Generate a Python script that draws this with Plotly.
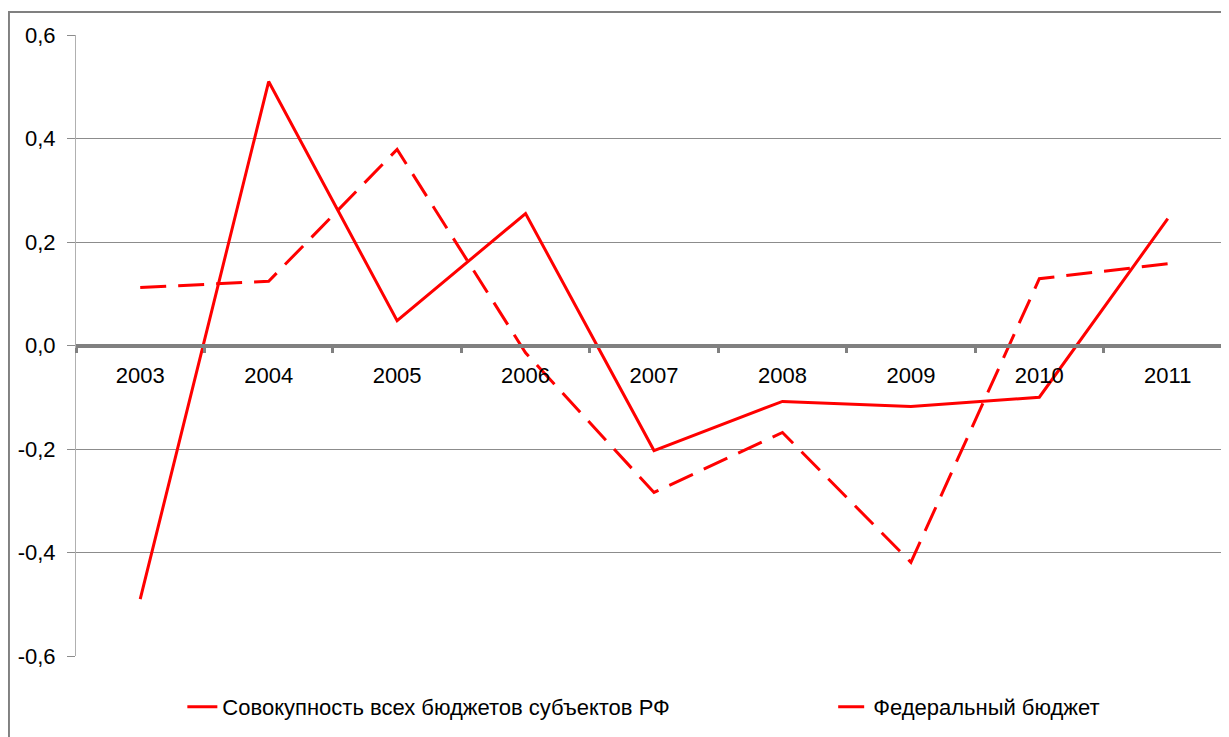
import plotly.graph_objects as go

# Data
years = ['2003', '2004', '2005', '2006', '2007', '2008', '2009', '2010', '2011']
regions_total = [-0.49, 0.51, 0.048, 0.255, -0.203, -0.108, -0.118, -0.100, 0.245]
federal = [0.112, 0.124, 0.379, -0.014, -0.284, -0.168, -0.419, 0.129, 0.158]

y_ticks = [-0.6, -0.4, -0.2, 0.0, 0.2, 0.4, 0.6]
y_labels = ['-0,6', '-0,4', '-0,2', '0,0', '0,2', '0,4', '0,6']

font_name = 'Arial, Liberation Sans, sans-serif'

fig = go.Figure()
fig.add_trace(go.Scatter(
    x=years, y=regions_total, mode='lines',
    name='Совокупность всех бюджетов субъектов РФ',
    line=dict(color='#ff0000', width=3),
    legend='legend',
))
fig.add_trace(go.Scatter(
    x=years, y=federal, mode='lines',
    name='Федеральный бюджет',
    line=dict(color='#ff0000', width=3, dash='26px,12px'),
    legend='legend2',
))

legend_style = dict(orientation='h', xanchor='left', y=-0.082, yanchor='middle',
                    font=dict(size=22), bgcolor='rgba(0,0,0,0)')

fig.update_layout(
    width=1229, height=737,
    margin=dict(l=68, r=5, t=27, b=89, autoexpand=False),
    paper_bgcolor='white', plot_bgcolor='white',
    font=dict(family=font_name, size=22, color='black'),
    showlegend=True,
    legend=dict(x=0.092, **legend_style),
    legend2=dict(x=0.655, **legend_style),
    xaxis=dict(
        type='category', range=[-0.5, 8.5],
        anchor='free', position=0.5,
        showline=True, linecolor='#808080', linewidth=4,
        ticks='outside', tickson='boundaries', ticklen=5, tickwidth=3,
        tickcolor='#808080', showgrid=False, zeroline=False,
        tickfont=dict(size=22), ticklabelstandoff=9,
    ),
    yaxis=dict(
        range=[-0.6, 0.6], tickvals=y_ticks, ticktext=y_labels,
        showgrid=True, gridcolor='#8c8c8c', gridwidth=1,
        showline=True, linecolor='#b0b0b0', linewidth=1,
        ticks='outside', ticklen=8, tickcolor='#8c8c8c',
        zeroline=False, tickfont=dict(size=22), ticklabelstandoff=7,
    ),
    shapes=[dict(
        type='rect', xref='paper', yref='paper',
        x0=-0.058, x1=1.05, y0=-0.3, y1=1.037,
        line=dict(color='#808080', width=2), layer='below',
    )],
)

fig.write_html('out.html')
